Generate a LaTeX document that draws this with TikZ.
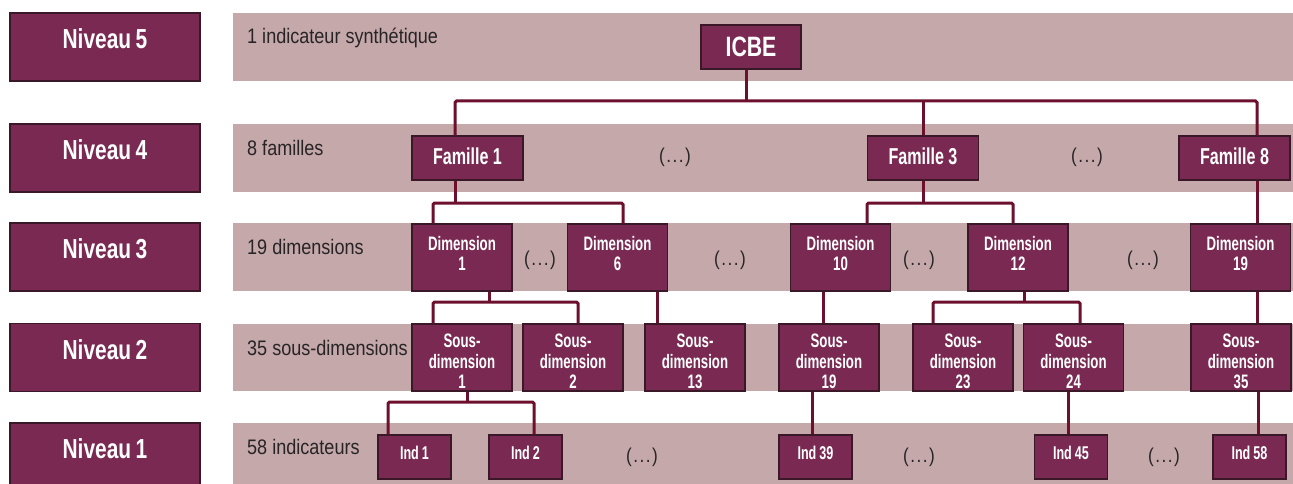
\documentclass[tikz,border=0pt]{standalone}
\usepackage{fontspec}
\setmainfont{Liberation Sans}
\newfontfamily\boxf[FakeStretch=0.68]{Liberation Sans}
\newfontfamily\famf[FakeStretch=0.70]{Liberation Sans}
\newfontfamily\nivf[FakeStretch=0.76]{Liberation Sans}
\newfontfamily\bandf[FakeStretch=0.86]{Liberation Sans}
\definecolor{plum}{RGB}{122,42,82}
\definecolor{plumdark}{RGB}{58,24,40}
\definecolor{bandcol}{RGB}{196,168,170}
\definecolor{conncol}{RGB}{108,16,46}
\definecolor{bandtxt}{RGB}{40,36,38}
\tikzset{
  box/.style={draw=plumdark, line width=1.3pt, fill=plum, inner sep=0pt},
  lvlbox/.style={box, minimum width=190pt, minimum height=68pt},
  famb/.style={box, minimum width=111pt, minimum height=44pt},
  dimb/.style={box, minimum width=100pt, minimum height=67pt},
  indb/.style={box, minimum width=73pt, minimum height=44pt},
  wt/.style={text=white, inner sep=0pt, align=center},
  bt/.style={wt, font=\boxf\bfseries\fontsize{19.5}{20.5}\selectfont},
  ft/.style={wt, font=\famf\bfseries\fontsize{23}{24}\selectfont},
  it/.style={wt, font=\boxf\bfseries\fontsize{18.5}{20}\selectfont},
  nt/.style={wt, font=\nivf\bfseries\fontsize{27.5}{28}\selectfont},
  ict/.style={wt, font=\nivf\bfseries\fontsize{28}{28}\selectfont},
  bandtext/.style={text=bandtxt, inner sep=0pt, anchor=base west, font=\bandf\fontsize{21}{24}\selectfont},
  dots/.style={text=bandtxt, inner sep=0pt, font=\bandf\fontsize{20}{22}\selectfont},
  link/.style={draw=conncol, line width=3pt, rounded corners=1.5pt},
}
\newcommand{\dts}{(\kern1.5pt.\kern1.5pt.\kern1.5pt.\kern1.5pt)}
\begin{document}
\begin{tikzpicture}[x=1pt,y=-1pt]
\useasboundingbox (0,0) rectangle (1293,484);
% bands
\fill[bandcol] (233,13) rectangle (1293,81);
\fill[bandcol] (233,124) rectangle (1293,192);
\fill[bandcol] (233,223) rectangle (1293,291);
\fill[bandcol] (233,324) rectangle (1293,391);
\fill[bandcol] (233,423) rectangle (1293,490);
% level boxes
\node[lvlbox, label={[nt,yshift=8pt]center:Niveau\,5}] (n5) at (105,47) {};
\node[lvlbox, label={[nt,yshift=8pt]center:Niveau\,4}] (n4) at (105,158) {};
\node[lvlbox, label={[nt,yshift=8pt]center:Niveau\,3}] (n3) at (105,257) {};
\node[lvlbox, label={[nt,yshift=8pt]center:Niveau\,2}] (n2) at (105,357.5) {};
\node[lvlbox, label={[nt,yshift=8pt]center:Niveau\,1}] (n1) at (105,457) {};
% band texts
\node[bandtext] (t5) at (247,44) {1 indicateur synthétique};
\node[bandtext] (t4) at (247,155) {8 familles};
\node[bandtext] (t3) at (247,254) {19 dimensions};
\node[bandtext] (t2) at (247,355) {35 sous-dimensions};
\node[bandtext] (t1) at (247,454) {58 indicateurs};
% level 5
\node[box, minimum width=100pt, minimum height=44pt, label={[ict]center:ICBE}] (icbe) at (751,47) {};
% level 4
\node[famb, label={[ft,yshift=2pt]center:Famille 1}] (f1) at (467.5,158) {};
\node[famb, label={[ft,yshift=2pt]center:Famille 3}] (f3) at (923,158) {};
\node[famb, label={[ft,yshift=2pt]center:Famille 8}] (f8) at (1234.5,158) {};
\node[dots] (p41) at (675,157) {\dts};
\node[dots] (p42) at (1087,157) {\dts};
% level 3
\node[dimb, label={[bt,yshift=4pt]center:{Dimension\\1}}] (d1) at (462,257.5) {};
\node[dimb, label={[bt,yshift=4pt]center:{Dimension\\6}}] (d6) at (617.5,257.5) {};
\node[dimb, label={[bt,yshift=4pt]center:{Dimension\\10}}] (d10) at (840.5,257.5) {};
\node[dimb, label={[bt,yshift=4pt]center:{Dimension\\12}}] (d12) at (1018,257.5) {};
\node[dimb, label={[bt,yshift=4pt]center:{Dimension\\19}}] (d19) at (1240.5,257.5) {};
\node[dots] (p31) at (540,260) {\dts};
\node[dots] (p32) at (730,260) {\dts};
\node[dots] (p33) at (919,260) {\dts};
\node[dots] (p34) at (1143,260) {\dts};
% level 2
\node[dimb, label={[bt,yshift=-4pt]center:{Sous-\\dimension\\1}}] (s1) at (462,357.5) {};
\node[dimb, label={[bt,yshift=-4pt]center:{Sous-\\dimension\\2}}] (s2) at (573,357.5) {};
\node[dimb, label={[bt,yshift=-4pt]center:{Sous-\\dimension\\13}}] (s13) at (695,357.5) {};
\node[dimb, label={[bt,yshift=-4pt]center:{Sous-\\dimension\\19}}] (s19) at (829,357.5) {};
\node[dimb, label={[bt,yshift=-4pt]center:{Sous-\\dimension\\23}}] (s23) at (963,357.5) {};
\node[dimb, label={[bt,yshift=-4pt]center:{Sous-\\dimension\\24}}] (s24) at (1073.5,357.5) {};
\node[dimb, label={[bt,yshift=-4pt]center:{Sous-\\dimension\\35}}] (s35) at (1241,357.5) {};
% level 1
\node[indb, label={[it,yshift=4pt]center:Ind\,1}] (i1) at (414.5,457) {};
\node[indb, label={[it,yshift=4pt]center:Ind\,2}] (i2) at (525.5,457) {};
\node[indb, label={[it,yshift=4pt]center:Ind\,39}] (i39) at (815.5,457) {};
\node[indb, label={[it,yshift=4pt]center:Ind\,45}] (i45) at (1071,457) {};
\node[indb, label={[it,yshift=4pt]center:Ind\,58}] (i58) at (1249.5,457) {};
\node[dots] (p11) at (642,457) {\dts};
\node[dots] (p12) at (919,457) {\dts};
\node[dots] (p13) at (1164,457) {\dts};
% connectors level 5 -> 4
\draw[link] (455,0 |- f1.north) -- (455,101) -- (1257,101) -- (1257,0 |- f8.north);
\draw[link] (746,0 |- icbe.south) -- (746,101);
\draw[link] (f3.north) -- (923,101);
% level 4 -> 3
\draw[link] (433,0 |- d1.north) -- (433,203) -- (623,203) -- (623,0 |- d6.north);
\draw[link] (455,0 |- f1.south) -- (455,203);
\draw[link] (867,0 |- d10.north) -- (867,203) -- (1013,203) -- (1013,0 |- d12.north);
\draw[link] (f3.south) -- (923,203);
\draw[link] (1257,0 |- f8.south) -- (1257,0 |- d19.north);
% level 3 -> 2
\draw[link] (433,0 |- s1.north) -- (433,302) -- (578,302) -- (578,0 |- s2.north);
\draw[link] (489,0 |- d1.south) -- (489,302);
\draw[link] (657,0 |- d6.south) -- (657,0 |- s13.north);
\draw[link] (823,0 |- d10.south) -- (823,0 |- s19.north);
\draw[link] (933,0 |- s23.north) -- (933,302) -- (1080,302) -- (1080,0 |- s24.north);
\draw[link] (1024,0 |- d12.south) -- (1024,302);
\draw[link] (1257,0 |- d19.south) -- (1257,0 |- s35.north);
% level 2 -> 1
\draw[link] (388,0 |- i1.north) -- (388,402) -- (534,402) -- (534,0 |- i2.north);
\draw[link] (467,0 |- s1.south) -- (467,402);
\draw[link] (812,0 |- s19.south) -- (812,0 |- i39.north);
\draw[link] (1068,0 |- s24.south) -- (1068,0 |- i45.north);
\draw[link] (1258,0 |- s35.south) -- (1258,0 |- i58.north);
\end{tikzpicture}
\end{document}
